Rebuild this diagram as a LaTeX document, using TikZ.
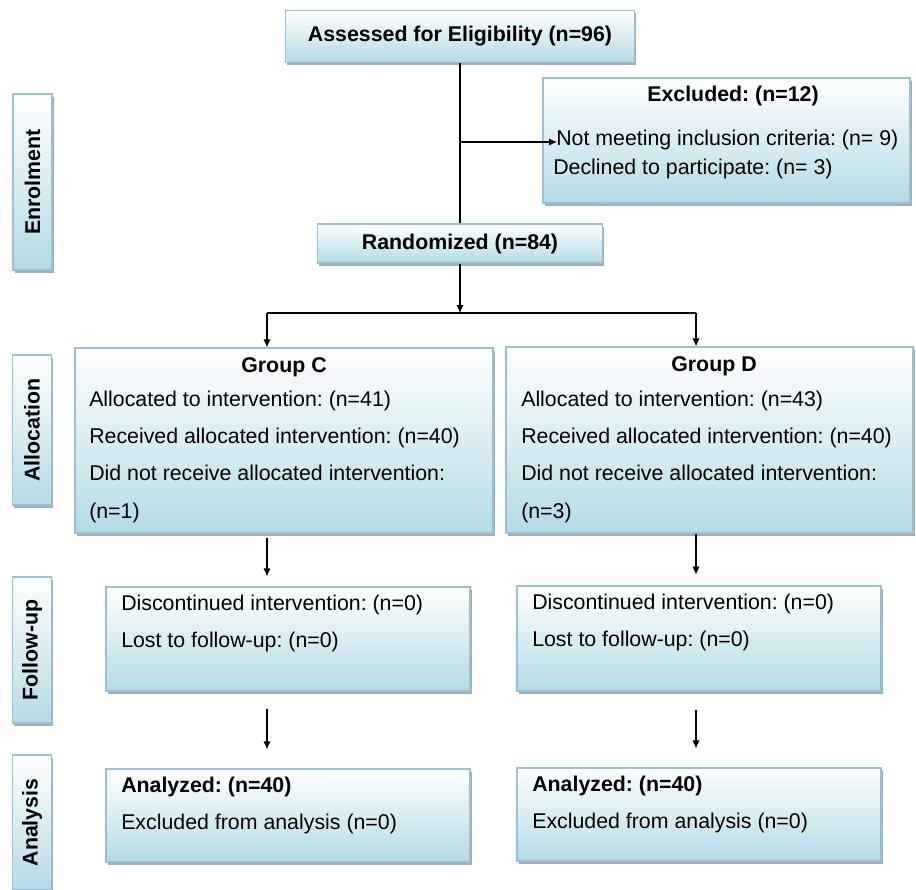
\documentclass[tikz,border=0pt]{standalone}
\usepackage{fontspec}
\setmainfont{Liberation Sans}
\usetikzlibrary{shadows,arrows.meta}
\definecolor{boxblue}{RGB}{180,219,230}
\definecolor{boxline}{RGB}{150,194,212}
\newcommand\boxfont{\fontsize{16}{19}\selectfont\frenchspacing}

\begin{document}
\begin{tikzpicture}[x=0.75pt, y=-0.75pt,
  box/.style={shape=rectangle, draw=boxline, line width=0.9pt, top color=white, bottom color=boxblue,
    drop shadow={shadow xshift=1.2pt, shadow yshift=-2pt, fill=black!55, opacity=0.6}, inner sep=0pt},
  side/.style={box, rotate=90, font=\boxfont\bfseries},
  txt/.style={inner sep=0pt, anchor=west, font=\boxfont, text height=0.73em, text depth=0.21em},
  wire/.style={line width=0.9pt},
  conn/.style={line width=0.9pt, -{Latex[length=6pt,width=5.5pt]}}]
\useasboundingbox (0,0) rectangle (916,889);
% stage labels
\node[side, minimum width=132pt, minimum height=29.25pt] (S1) at (32.5,182) {Enrolment};
\node[side, minimum width=112.5pt, minimum height=29.25pt] (S2) at (32,430) {Allocation};
\node[side, minimum width=109.5pt, minimum height=29.25pt] (S3) at (32,650) {Follow-up};
\node[side, minimum width=101.25pt, minimum height=29.25pt] (S4) at (32,822.5) {Analysis};
% boxes
\node[box, font=\boxfont\bfseries, minimum width=261.75pt, minimum height=39pt] (A) at (460,36.5) {Assessed for Eligibility (n=96)};
\node[box, minimum width=275.25pt, minimum height=93.75pt] (E) at (726.5,140.5) {};
\node[box, font=\boxfont\bfseries, minimum width=213.75pt, minimum height=29.25pt] (R) at (460,243.5) {Randomized (n=84)};
\node[box, minimum width=313.5pt, minimum height=138.75pt] (C) at (284,440.5) {};
\node[box, minimum width=305.25pt, minimum height=139.5pt] (D) at (709.5,440) {};
\node[box, minimum width=273pt, minimum height=78pt] (FC) at (288,639) {};
\node[box, minimum width=273pt, minimum height=78.75pt] (FD) at (699,638.5) {};
\node[box, minimum width=273pt, minimum height=69.75pt] (AC) at (288,815.5) {};
\node[box, minimum width=273pt, minimum height=69.75pt] (AD) at (699,814.5) {};
% texts
\node[txt, anchor=center, font=\boxfont\bfseries] (E0) at (733,98) {Excluded: (n=12)};
\node[txt] (E1) at (556,142) {Not meeting inclusion criteria: (n= 9)};
\node[txt] (E2) at (553,171) {Declined to participate: (n= 3)};
\node[txt, anchor=center, font=\boxfont\bfseries] (C0) at (284,369) {Group C};
\node[txt] (C1) at (89,403) {Allocated to intervention: (n=41)};
\node[txt] (C2) at (89,440) {Received allocated intervention: (n=40)};
\node[txt] (C3) at (89,477) {Did not receive allocated intervention:};
\node[txt] (C4) at (89,515) {(n=1)};
\node[txt, anchor=center, font=\boxfont\bfseries] (D0) at (714,368) {Group D};
\node[txt] (D1) at (521,403) {Allocated to intervention: (n=43)};
\node[txt] (D2) at (521,440) {Received allocated intervention: (n=40)};
\node[txt] (D3) at (521,477) {Did not receive allocated intervention:};
\node[txt] (D4) at (521,515) {(n=3)};
\node[txt] (FC1) at (121,607) {Discontinued intervention: (n=0)};
\node[txt] (FC2) at (121,644) {Lost to follow-up: (n=0)};
\node[txt] (FD1) at (532,606) {Discontinued intervention: (n=0)};
\node[txt] (FD2) at (532,643) {Lost to follow-up: (n=0)};
\node[txt, font=\boxfont\bfseries] (AC1) at (121,789) {Analyzed: (n=40)};
\node[txt] (AC2) at (121,826) {Excluded from analysis (n=0)};
\node[txt, font=\boxfont\bfseries] (AD1) at (532,788) {Analyzed: (n=40)};
\node[txt] (AD2) at (532,825) {Excluded from analysis (n=0)};
% connectors
\coordinate (B) at (460,142);
\coordinate (T) at (557,142);
\coordinate (M) at (460,313);
\coordinate (L) at (267,313);
\coordinate (Q) at (696,313);
\path [wire] (A) edge (R);
\path [conn] (B) edge (T);
\path [conn] (R) edge (M);
\path [wire] (L) edge (Q);
\path [conn] (L) edge (L |- C.north);
\path [conn] (Q) edge (Q |- D.north);
\path [conn, shorten <=3pt, shorten >=7.5pt] (L |- C.south) edge (L |- FC.north);
\path [conn, shorten >=8pt] (Q |- D.south) edge (Q |- FD.north);
\path [conn, shorten <=12.75pt, shorten >=14.25pt] (L |- FC.south) edge (L |- AC.north);
\path [conn, shorten <=13.5pt, shorten >=14.25pt] (Q |- FD.south) edge (Q |- AD.north);
\end{tikzpicture}
\end{document}
